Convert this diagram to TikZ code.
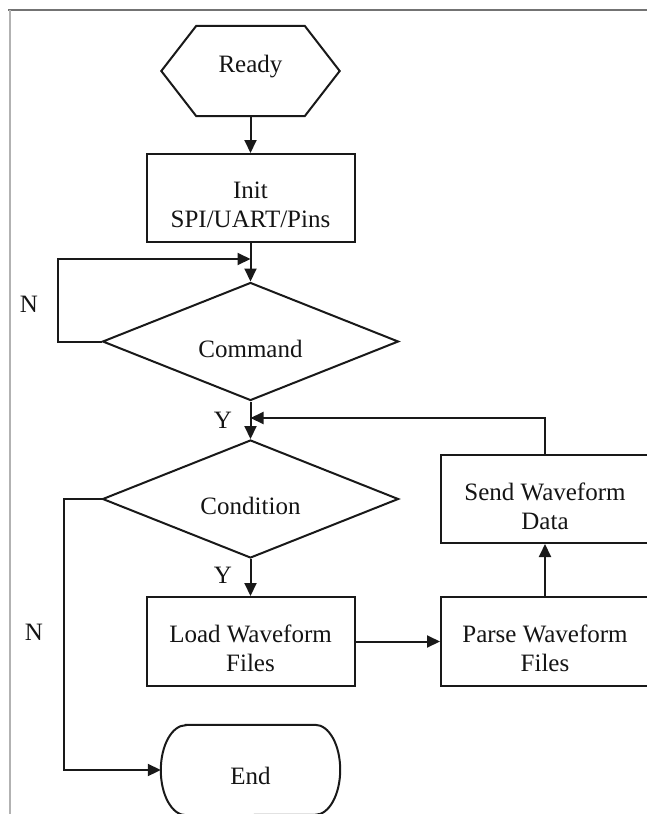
\documentclass[tikz,border=0pt]{standalone}
\usepackage{fontspec}
\setmainfont{Liberation Serif}
\usetikzlibrary{arrows.meta,shapes.geometric,calc}

\begin{document}
\begin{tikzpicture}[x=1pt,y=-1pt,
  line/.style={line width=2pt, draw=black!90},
  arr/.style={line, -{Triangle[length=13pt,width=12pt]}},
  txt/.style={font=\fontsize{25}{29}\selectfont, align=center, inner sep=0pt, text=black!92},
  lbl/.style={txt, yshift=-7pt},
  box/.style={line, rectangle, minimum width=208pt, minimum height=88pt, inner sep=0pt},
  dec/.style={line, diamond, minimum width=296pt, minimum height=118pt, inner sep=0pt},
  hexn/.style={rectangle, minimum width=178pt, minimum height=90pt, inner sep=0pt},
  term/.style={rectangle, minimum width=179pt, minimum height=90pt, inner sep=0pt},
  frame/.style={line width=2pt},
]
\useasboundingbox (0,0) rectangle (647,814);
\clip (0,0) rectangle (647,814);

% page frame
\draw[frame, draw=black!55] (8,10) -- (647,10);
\draw[frame, draw=black!30] (10,10) -- (10,814);

% start hexagon
\node[hexn, label={[txt,yshift=4pt]center:Ready}] (ready) at (250.5,71) {};
\draw[line] (ready.west) -- ($(ready.north west)+(35pt,0pt)$)
  -- ($(ready.north east)+(-35pt,0pt)$) -- (ready.east)
  -- ($(ready.south east)+(-35pt,0pt)$) -- ($(ready.south west)+(35pt,0pt)$) -- cycle;

% process steps and decisions
\node[box, label={[lbl]center:Init\\SPI/UART/Pins}] (init) at (250.5,198) {};
\node[dec, label={[lbl]center:Command}] (cmd) at (250.5,341.5) {};
\node[dec, label={[lbl]center:Condition}] (cond) at (250.5,499) {};
\node[box, minimum height=89pt, label={[lbl]center:Load Waveform\\Files}] (load) at (250.5,641.5) {};
\node[box, minimum height=89pt, label={[lbl]center:Parse Waveform\\Files}] (parse) at (545,641.5) {};
\node[box, label={[lbl]center:Send Waveform\\Data}] (send) at (545,499) {};

% terminator
\node[term, label={[lbl,yshift=1pt]center:End}] (endn) at (250.5,770) {};
\draw[line] ($(endn.north west)+(25pt,0pt)$) -- ($(endn.north east)+(-25pt,0pt)$)
  arc[start angle=90, end angle=-90, x radius=25pt, y radius=45pt]
  -- ($(endn.south west)+(25pt,0pt)$)
  arc[start angle=270, end angle=90, x radius=25pt, y radius=45pt] -- cycle;

% branch labels
\node[txt] (n1) at (29,304) {N};
\node[txt] (y1) at (223,420) {Y};
\node[txt] (y2) at (223,575) {Y};
\node[txt] (n2) at (34,632) {N};

% connectors
\coordinate (loopin) at (250.5,259);
\coordinate (backin) at (250.5,418);
\draw[arr] (ready.south) -- (init.north);
\draw[arr] (init.south) -- (cmd.north);
\draw[arr] (cmd.west) -- ++(-44pt,0pt) |- (loopin);
\draw[arr] (cmd.south) -- (cond.north);
\draw[arr] (cond.south) -- (load.north);
\draw[arr] (load.east) -- (parse.west);
\draw[arr] (parse.north) -- (send.south);
\draw[arr] (send.north) |- (backin);
\draw[arr] (cond.west) -- ++(-38pt,0pt) |- (endn.west);
\end{tikzpicture}
\end{document}
